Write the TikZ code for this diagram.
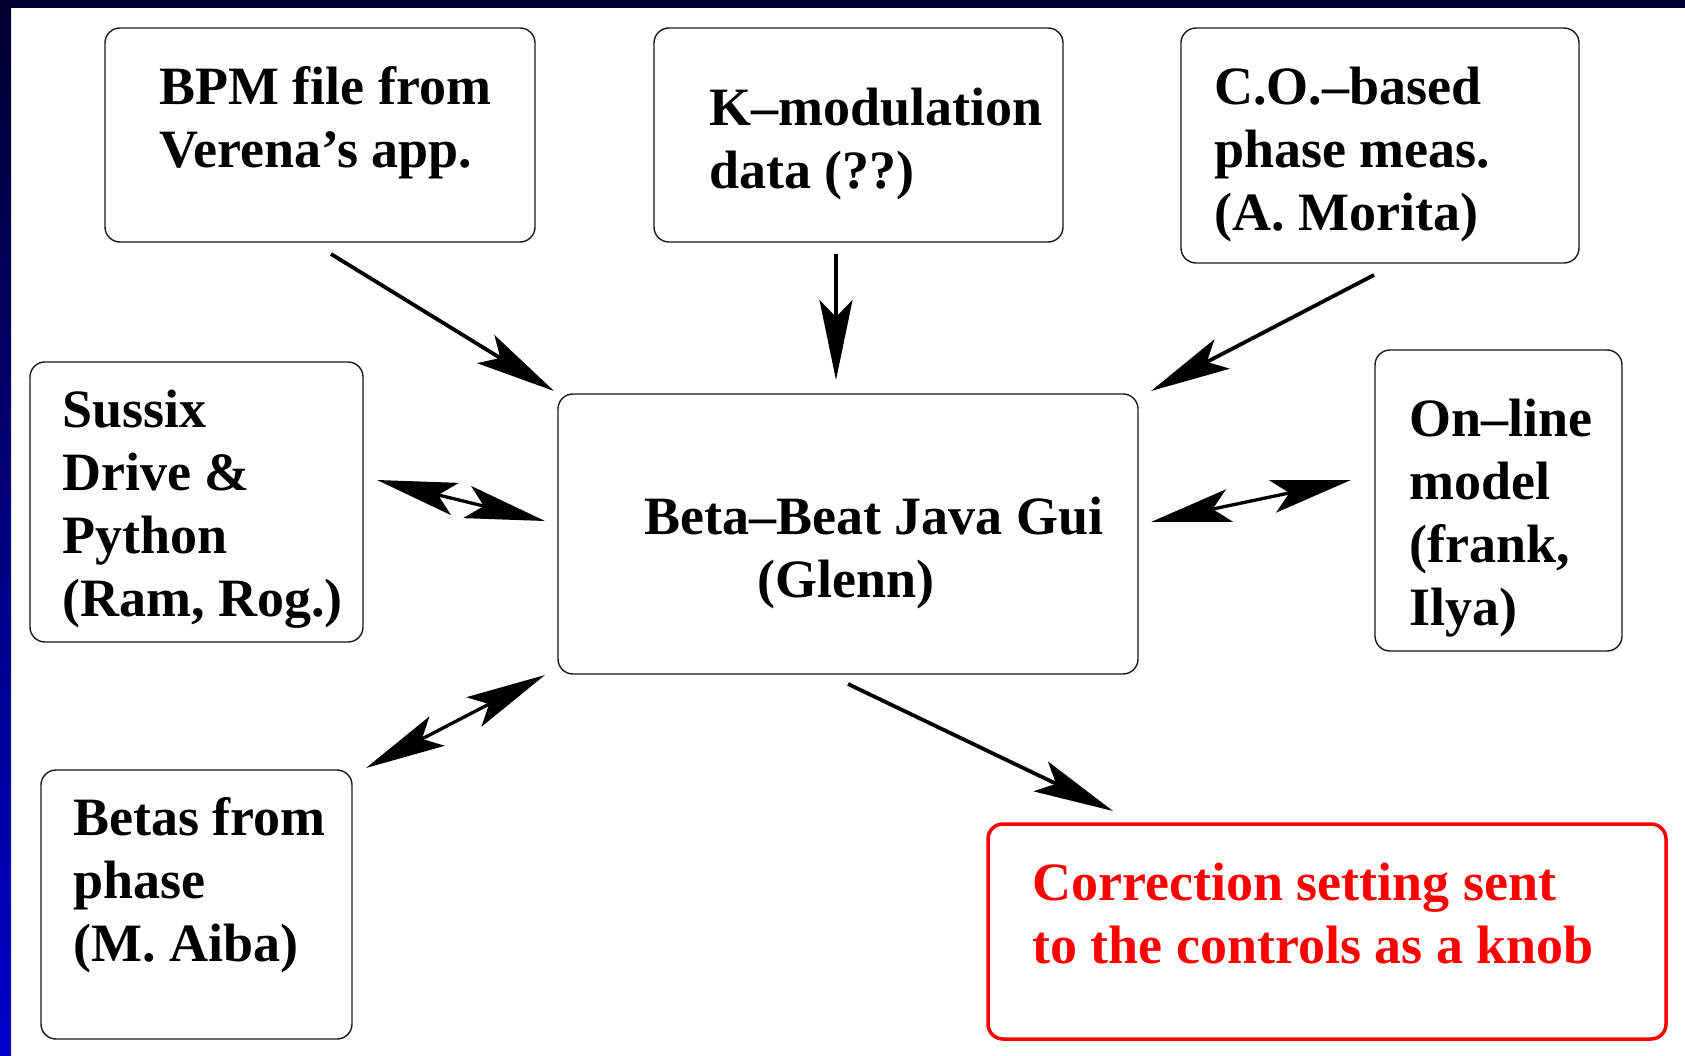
\documentclass[tikz,border=0pt]{standalone}
\usepackage{fontspec}
\setmainfont{Liberation Serif}
\usetikzlibrary{arrows.meta}
\definecolor{barnavy}{RGB}{2,0,48}
\definecolor{barblue}{RGB}{0,0,204}
\definecolor{knobred}{RGB}{255,0,0}
\begin{document}
\begin{tikzpicture}[x=1pt,y=-1pt,
  box/.style={draw=black!90,line width=1.4pt,rounded corners=15pt,rectangle,inner sep=0pt,outer sep=0pt},
  redbox/.style={draw=knobred,line width=3.5pt,rounded corners=15pt,rectangle,inner sep=0pt,outer sep=0pt},
  label/.style={anchor=base west,inner sep=0pt,align=left,font=\fontsize{54}{63}\selectfont\bfseries},
  tip/.style={},
  link/.style={line width=3.8pt,-{Stealth[length=80pt,width=33pt,inset=17pt]}},
  dlink/.style={line width=3.3pt,{Stealth[length=80pt,width=33pt,inset=17pt]}-{Stealth[length=80pt,width=33pt,inset=17pt]}}
]
% page frame and decorative bars
\useasboundingbox (0,0) rectangle (1685,1056);
\fill[white] (0,0) rectangle (1685,1056);
\shade[top color=barnavy,bottom color=barblue] (0,0) rectangle (11,1056);
\fill[barnavy] (0,0) rectangle (1685,8);

% boxes
\node[box,minimum width=430pt,minimum height=214pt] (bpm) at (320,135) {};
\node[box,minimum width=409pt,minimum height=214pt] (kmod) at (858.5,135) {};
\node[box,minimum width=398pt,minimum height=235pt] (co) at (1380,145.5) {};
\node[box,minimum width=333pt,minimum height=280pt] (sus) at (196.5,502) {};
\node[box,minimum width=580pt,minimum height=280pt] (gui) at (848,534) {};
\node[box,minimum width=247pt,minimum height=301pt] (onl) at (1498.5,500.5) {};
\node[box,minimum width=311pt,minimum height=269pt] (bet) at (196.5,904.5) {};
\node[redbox,minimum width=678pt,minimum height=215pt] (cor) at (1327,931.5) {};

% texts (anchored at the baseline of their last line)
\node[label] (tbpm) at (159,168) {BPM file from\\Verena’s app.};
\node[label] (tkmod) at (709,189) {K--modulation\\data (??)};
\node[label] (tco) at (1214,231) {C.O.--based\\phase meas.\\(A. Morita)};
\node[label] (tsus) at (62,616) {Sussix\\Drive \&\\Python\\(Ram, Rog.)};
\node[label] (tgui1) at (644,534) {Beta--Beat Java Gui};
\node[label] (tgui2) at (757,597) {(Glenn)};
\node[label] (tonl) at (1409,625) {On--line\\model\\(frank,\\Ilya)};
\node[label] (tbet) at (73,961) {Betas from\\phase\\(M. Aiba)};
\node[label,text=knobred] (tcor) at (1032,963) {Correction setting sent\\to the controls as a knob};

% connector end points
\coordinate (bpmout) at (331,254);
\coordinate (guiinA) at (554,391);
\coordinate (kmodout) at (836,254);
\coordinate (guiinB) at (836,380);
\coordinate (coout) at (1374,275);
\coordinate (guiinC) at (1151,391);
\coordinate (susend) at (377,480);
\coordinate (guiL) at (545,521);
\coordinate (guiR) at (1151,522);
\coordinate (onlend) at (1351,480);
\coordinate (betend) at (366,768);
\coordinate (guiLL) at (545,675);
\coordinate (guiout) at (848,684);
\coordinate (corin) at (1113,811);

% connectors
\draw[link] (bpmout) -- (guiinA);
\draw[link] (kmodout) -- (guiinB);
\draw[link] (coout) -- (guiinC);
\draw[dlink] (susend) -- (guiL);
\draw[dlink] (guiR) -- (onlend);
\draw[dlink] (betend) -- (guiLL);
\draw[link] (guiout) -- (corin);
\end{tikzpicture}
\end{document}
